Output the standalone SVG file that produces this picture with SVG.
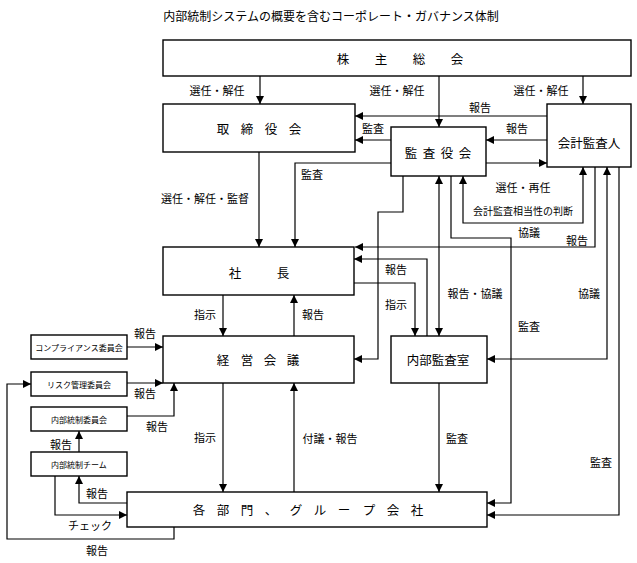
<svg xmlns="http://www.w3.org/2000/svg" width="637" height="563" viewBox="0 0 637 563">
<style>
.box{fill:#fff;stroke:#000;stroke-width:1.4}
.ln{fill:none;stroke:#000;stroke-width:1.2}
.t{font-family:"Noto Sans CJK JP","Noto Sans CJK SC",sans-serif;fill:#000;text-anchor:middle;dominant-baseline:central}
.bt{font-size:12.5px}
.lb{font-size:11px}
.sm{font-size:8px}
</style>
<defs>
<marker id="ah" viewBox="0 0 8 8" refX="8" refY="4" markerWidth="8" markerHeight="8" markerUnits="userSpaceOnUse" orient="auto-start-reverse">
<path d="M0,0 L8,4 L0,8 z" fill="#000"/>
</marker>
</defs>
<rect width="637" height="563" fill="#fff"/>
<text class="t" x="331" y="15" font-size="12">内部統制システムの概要を含むコーポレート・ガバナンス体制</text>

<g id="connectors">
<path class="ln" d="M260,76 V104" marker-end="url(#ah)"/>
<path class="ln" d="M439,76 V127" marker-end="url(#ah)"/>
<path class="ln" d="M583,76 V104" marker-end="url(#ah)"/>
<path class="ln" d="M547,116 H355" marker-end="url(#ah)"/>
<path class="ln" d="M391,140 H355" marker-end="url(#ah)"/>
<path class="ln" d="M547,140 H486" marker-end="url(#ah)"/>
<path class="ln" d="M486,163 H547" marker-end="url(#ah)"/>
<path class="ln" d="M391,163 H295 V247" marker-end="url(#ah)"/>
<path class="ln" d="M259,152 V247" marker-end="url(#ah)"/>
<path class="ln" d="M403,176 V212 H378 V359 H354" marker-end="url(#ah)"/>
<path class="ln" d="M439,336 V176" marker-start="url(#ah)" marker-end="url(#ah)"/>
<path class="ln" d="M451,176 V238 H511 V503 H487" marker-end="url(#ah)"/>
<path class="ln" d="M463,176 V223 H583 V167" marker-start="url(#ah)" marker-end="url(#ah)"/>
<path class="ln" d="M595,167 V247 H355" marker-end="url(#ah)"/>
<path class="ln" d="M607,167 V359 H487" marker-start="url(#ah)" marker-end="url(#ah)"/>
<path class="ln" d="M619,167 V515 H487" marker-end="url(#ah)"/>
<path class="ln" d="M427,336 V259 H354" marker-end="url(#ah)"/>
<path class="ln" d="M354,283 H415 V336" marker-end="url(#ah)"/>
<path class="ln" d="M223,295 V336" marker-end="url(#ah)"/>
<path class="ln" d="M294,336 V295" marker-end="url(#ah)"/>
<path class="ln" d="M223,383 V492" marker-end="url(#ah)"/>
<path class="ln" d="M294,492 V383" marker-end="url(#ah)"/>
<path class="ln" d="M439,383 V492" marker-end="url(#ah)"/>
<path class="ln" d="M127,347 H163" marker-end="url(#ah)"/>
<path class="ln" d="M127,383 H163" marker-end="url(#ah)"/>
<path class="ln" d="M127,416 H174 V383" marker-end="url(#ah)"/>
<path class="ln" d="M79,452 V431" marker-end="url(#ah)"/>
<path class="ln" d="M127,503 H79 V476" marker-end="url(#ah)"/>
<path class="ln" d="M55,476 V515 H127" marker-end="url(#ah)"/>
<path class="ln" d="M174,527 V539 H7 V384 H31" marker-end="url(#ah)"/>

<g class="t lb">
<text x="217" y="90">選任・解任</text>
<text x="397" y="90">選任・解任</text>
<text x="541" y="90">選任・解任</text>
<text x="480" y="107">報告</text>
<text x="373" y="128">監査</text>
<text x="517" y="128">報告</text>
<text x="312" y="174">監査</text>
<text x="205" y="198">選任・解任・監督</text>
<text x="523" y="187">選任・再任</text>
<text x="523" y="210" font-size="10">会計監査相当性の判断</text>
<text x="529" y="232">協議</text>
<text x="577" y="240">報告</text>
<text x="396" y="269">報告</text>
<text x="396" y="304">指示</text>
<text x="475" y="293">報告・協議</text>
<text x="589" y="293">協議</text>
<text x="529" y="326">監査</text>
<text x="205" y="314">指示</text>
<text x="313" y="314">報告</text>
<text x="145" y="333">報告</text>
<text x="145" y="393">報告</text>
<text x="157" y="426">報告</text>
<text x="61" y="444">報告</text>
<text x="205" y="437">指示</text>
<text x="330" y="438">付議・報告</text>
<text x="457" y="438">監査</text>
<text x="601" y="462">監査</text>
<text x="97" y="493">報告</text>
<text x="90" y="525">チェック</text>
<text x="97" y="550">報告</text>
</g>
</g>

<g id="kabunushi"><rect class="box" x="163" y="40" width="468" height="36"/><text class="t bt" x="343 381 419 457" y="58">株主総会</text></g>
<g id="torishimariyaku"><rect class="box" x="163" y="104" width="192" height="48"/><text class="t bt" x="223 247 271 295" y="128">取締役会</text></g>
<g id="kansayaku"><rect class="box" x="391" y="127" width="95" height="49"/><text class="t bt" x="411 429 447 465" y="152">監査役会</text></g>
<g id="kaikei"><rect class="box" x="547" y="104" width="84" height="63"/><text class="t bt" x="589" y="142">会計監査人</text></g>
<g id="shacho"><rect class="box" x="163" y="247" width="191" height="48"/><text class="t bt" x="235 283" y="272">社長</text></g>
<g id="keiei"><rect class="box" x="163" y="336" width="191" height="47"/><text class="t bt" x="223 247 270 293" y="359">経営会議</text></g>
<g id="naibukansa"><rect class="box" x="391" y="336" width="96" height="47"/><text class="t bt" x="438" y="359">内部監査室</text></g>
<g id="kakubumon"><rect class="box" x="127" y="492" width="360" height="35"/><text class="t bt" x="199 223 247 271 296 320 344 369 393 417" y="509">各部門、グループ会社</text></g>
<g id="compliance"><rect class="box" x="31" y="335" width="96" height="24"/><text class="t sm" x="79" y="347">コンプライアンス委員会</text></g>
<g id="risk"><rect class="box" x="31" y="372" width="96" height="24"/><text class="t sm" x="79" y="384">リスク管理委員会</text></g>
<g id="naibutousei-iinkai"><rect class="box" x="31" y="407" width="96" height="24"/><text class="t sm" x="79" y="419">内部統制委員会</text></g>
<g id="naibutousei-team"><rect class="box" x="31" y="452" width="96" height="24"/><text class="t sm" x="79" y="464">内部統制チーム</text></g>
</svg>
